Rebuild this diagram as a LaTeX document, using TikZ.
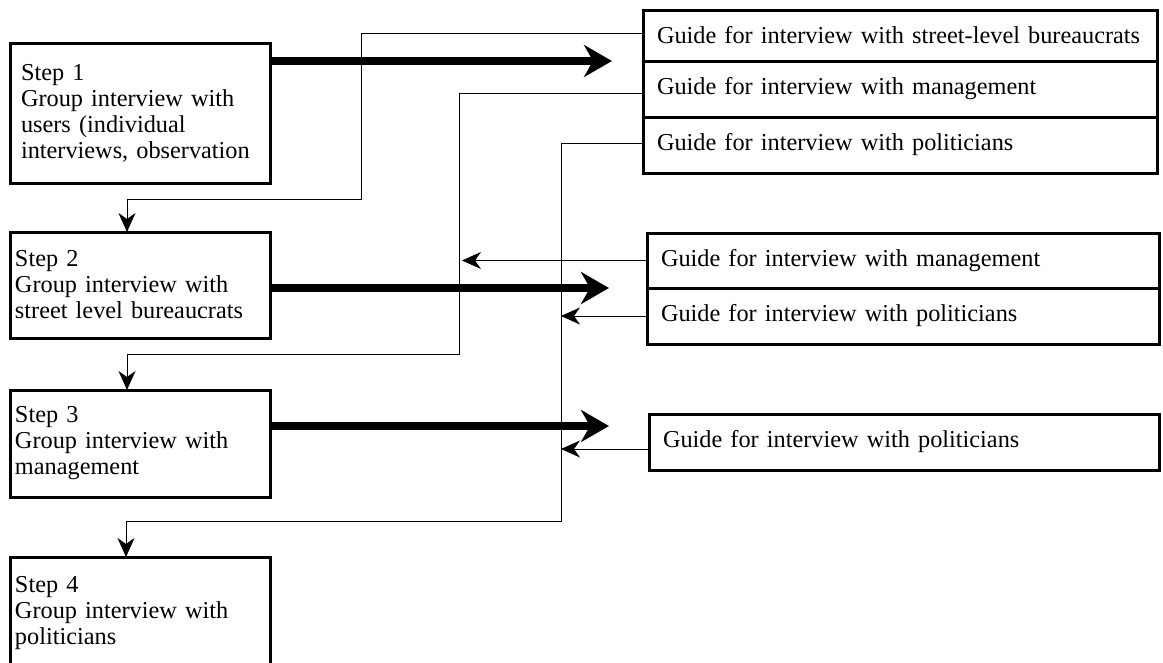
\documentclass[tikz,border=0pt]{standalone}
\usepackage{fontspec}
\setmainfont{Liberation Serif}
\usepackage{tikz}
\usetikzlibrary{arrows.meta,calc,positioning}
\tikzset{
  stepbox/.style={draw=black, line width=3pt, outer sep=0pt, align=left, minimum width=260pt, text width=250pt, inner xsep=5pt},
  guidebox/.style={draw=black, line width=3pt, outer sep=0pt, align=left, inner xsep=14pt, inner ysep=0pt},
  thinarrow/.style={-{Stealth[length=19pt, width=17pt, inset=6pt]}, line width=0.9pt, draw=black},
  thickarrow/.style={-{Stealth[length=28pt, width=32pt, inset=9pt]}, line width=8pt, draw=black}
}

\begin{document}
\begin{tikzpicture}[
  x=1pt, y=-1pt,
  font=\fontsize{24.3}{26}\selectfont,
  guideA/.style={guidebox, minimum width=514pt, text width=486pt},
  guideB/.style={guidebox, minimum width=512pt, text width=484pt},
  guideC/.style={guidebox, minimum width=510pt, text width=482pt}
]
  \useasboundingbox (0,0) rectangle (1163,662);
  \clip (0,0) rectangle (1163,662);

  % --- Steps ---
  \node[stepbox, minimum height=140pt, text width=238pt, inner xsep=11pt] (s1) at (140,113) {Step 1\\Group interview with\\users (individual\\interviews, observation};
  \node[stepbox, minimum height=106pt] (s2) at (140,285) {Step 2\\Group interview with\\street level bureaucrats};
  \node[stepbox, minimum height=107pt] (s3) at (140,443.5) {Step 3\\Group interview with\\management};
  \node[stepbox, minimum height=113pt] (s4) at (140,613.5) {Step 4\\Group interview with\\politicians};

  % --- Guides after step 1 ---
  \node[guideA, minimum height=51pt] (a1) at (900,35.5) {Guide for interview with street-level bureaucrats};
  \node[guideA, minimum height=56pt, below=0pt of a1] (a2) {Guide for interview with management};
  \node[guideA, minimum height=56pt, below=0pt of a2] (a3) {Guide for interview with politicians};

  % --- Guides after step 2 ---
  \node[guideB, minimum height=55pt] (b1) at (903,260.5) {Guide for interview with management};
  \node[guideB, minimum height=56pt, below=0pt of b1] (b2) {Guide for interview with politicians};

  % --- Guide after step 3 ---
  \node[guideC, minimum height=56pt] (c1) at (904,442) {Guide for interview with politicians};

  % thick arrows: step -> guides
  \draw[thickarrow] (s1.east |- a1.south) -- ++(342,0);
  \draw[thickarrow] (s2.east |- b1.south) -- ++(339,0);
  \draw[thickarrow] ([yshift=17.5pt]s3.east) -- ++(339,0);

  % thin lines: guides -> next steps
  \coordinate (j1) at (361,199);
  \coordinate (j2) at (459,354);
  \coordinate (j3) at (561,521);
  \draw[thinarrow] ([yshift=2.5pt]a1.west) -| (j1) -| ([xshift=-13pt]s2.north);
  \draw[thinarrow] ([yshift=-4pt]a2.west) -| (j2) -| ([xshift=-13pt]s3.north);
  \draw[thinarrow] ([yshift=2pt]a3.west) -| (j3) -| ([xshift=-14pt]s4.north);

  % thin arrows back to the lines
  \coordinate (cin) at ([yshift=-7pt]c1.west);
  \draw[thinarrow] (b1.west) -- ([xshift=3pt]j2 |- b1.west);
  \draw[thinarrow] (b2.west) -- (j3 |- b2.west);
  \draw[thinarrow] (cin) -- (cin -| j3);

\end{tikzpicture}
\end{document}
